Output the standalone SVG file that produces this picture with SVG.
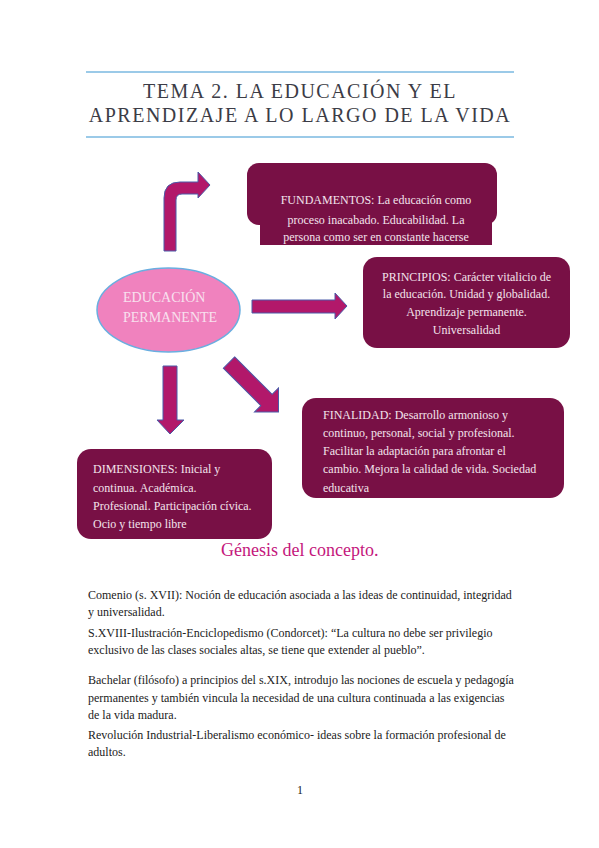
<svg xmlns="http://www.w3.org/2000/svg" width="599" height="848" viewBox="0 0 599 848">
<style>
.box{fill:#781045}
.bt{font-family:"Liberation Serif","Times New Roman",serif;font-size:12px;fill:#f3e3ec}
.arr{fill:#b2186a;stroke:#4b5aa8;stroke-width:1}
.body{font-family:"Liberation Serif","Times New Roman",serif;font-size:12px;fill:#222}
.title{font-family:"Liberation Serif","Times New Roman",serif;font-size:20px;fill:#3c3c46;letter-spacing:1.5px}
.rule{stroke:#7ab8e0;stroke-width:1.5}
</style>
<rect width="599" height="848" fill="#fff"/>
<g id="title">
<line class="rule" x1="86" y1="72" x2="514" y2="72"/>
<text class="title" x="300" y="98" text-anchor="middle">TEMA 2. LA EDUCACIÓN Y EL</text>
<text class="title" x="300" y="122" text-anchor="middle">APRENDIZAJE A LO LARGO DE LA VIDA</text>
<line class="rule" x1="86" y1="137" x2="514" y2="137"/>
</g>
<g id="connectors">
<path class="arr" d="M164,251 L164,198 Q164,182 180,182 L198,182 L198,172 L210,185 L198,198 L198,194 L182,194 Q176,194 176,200 L176,251 Z"/>
<path class="arr" d="M252,300 L335,300 L335,293 L347,306 L335,319 L335,313 L252,313 Z"/>
<path class="arr" d="M163,366 L177,366 L177,420 L184,420 L170,434 L157,420 L163,420 Z"/>
<path class="arr" transform="translate(229,362.5) rotate(45)" d="M0,-8 L53,-8 L53,-17 L70,0 L53,17 L53,8 L0,8 Z"/>
</g>
<g id="educacion">
<ellipse cx="168.5" cy="310" rx="71.5" ry="42" fill="#f082be" stroke="#6aaee0" stroke-width="1.5"/>
<text font-family="Liberation Serif, serif" font-size="14" fill="#f8e0ee" x="123" y="302">EDUCACIÓN</text>
<text font-family="Liberation Serif, serif" font-size="14" fill="#f8e0ee" x="123" y="322">PERMANENTE</text>
</g>
<g id="fundamentos">
<rect class="box" x="247" y="163" width="250" height="62" rx="12"/>
<rect class="box" x="260" y="210" width="232" height="35"/>
<text class="bt" text-anchor="middle" x="376" y="204">FUNDAMENTOS: La educación como</text>
<text class="bt" text-anchor="middle" x="376" y="224">proceso inacabado. Educabilidad. La</text>
<text class="bt" text-anchor="middle" x="376" y="241">persona como ser en constante hacerse</text>
</g>
<g id="principios">
<rect class="box" x="363" y="257" width="207" height="91" rx="14"/>
<text class="bt" text-anchor="middle" x="466.5" y="281">PRINCIPIOS: Carácter vitalicio de</text>
<text class="bt" text-anchor="middle" x="466.5" y="298">la educación. Unidad y globalidad.</text>
<text class="bt" text-anchor="middle" x="466.5" y="316">Aprendizaje permanente.</text>
<text class="bt" text-anchor="middle" x="466.5" y="334">Universalidad</text>
</g>
<g id="finalidad">
<rect class="box" x="302" y="398" width="262" height="100" rx="14"/>
<text class="bt" x="323" y="419">FINALIDAD: Desarrollo armonioso y</text>
<text class="bt" x="323" y="437">continuo, personal, social y profesional.</text>
<text class="bt" x="323" y="455">Facilitar la adaptación para afrontar el</text>
<text class="bt" x="323" y="473">cambio. Mejora la calidad de vida. Sociedad</text>
<text class="bt" x="323" y="492">educativa</text>
</g>
<g id="dimensiones">
<rect class="box" x="77" y="449" width="195" height="90" rx="14"/>
<text class="bt" x="93" y="473">DIMENSIONES: Inicial y</text>
<text class="bt" x="93" y="492">continua. Académica.</text>
<text class="bt" x="93" y="510">Profesional. Participación cívica.</text>
<text class="bt" x="93" y="528">Ocio y tiempo libre</text>
</g>
<g id="genesis">
<text font-family="Liberation Serif, serif" font-size="18" fill="#c4177c" x="221" y="556">Génesis del concepto.</text>
</g>
<g id="body">
<text class="body" x="88" y="599">Comenio (s. XVII): Noción de educación asociada a las ideas de continuidad, integridad</text>
<text class="body" x="88" y="616">y universalidad.</text>
<text class="body" x="88" y="637">S.XVIII-Ilustración-Enciclopedismo (Condorcet): “La cultura no debe ser privilegio</text>
<text class="body" x="88" y="654">exclusivo de las clases sociales altas, se tiene que extender al pueblo”.</text>
<text class="body" x="88" y="684">Bachelar (filósofo) a principios del s.XIX, introdujo las nociones de escuela y pedagogía</text>
<text class="body" x="88" y="702">permanentes y también vincula la necesidad de una cultura continuada a las exigencias</text>
<text class="body" x="88" y="719">de la vida madura.</text>
<text class="body" x="88" y="739">Revolución Industrial-Liberalismo económico- ideas sobre la formación profesional de</text>
<text class="body" x="88" y="756">adultos.</text>
<text class="body" x="300" y="794" text-anchor="middle">1</text>
</g>
</svg>
